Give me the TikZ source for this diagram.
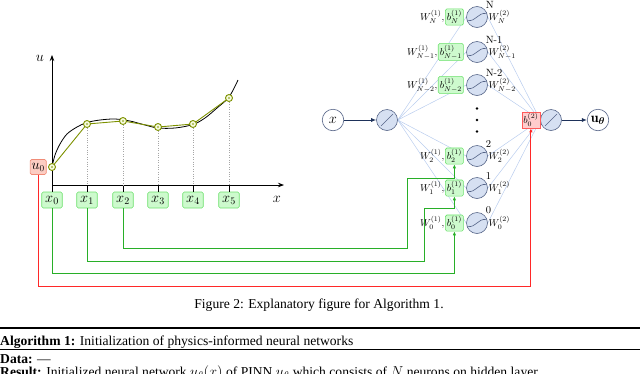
\documentclass[tikz,border=0pt]{standalone}
\usepackage{amsmath}
\usepackage{fontspec}
\newfontfamily\tnr{Liberation Serif}
\usetikzlibrary{arrows.meta,positioning,calc}
\pgfdeclarelayer{bg}
\pgfsetlayers{bg,main}
\definecolor{nfill}{RGB}{214,224,242}
\definecolor{nbord}{RGB}{85,100,135}
\definecolor{conn}{RGB}{185,205,238}
\definecolor{gfill}{RGB}{205,250,205}
\definecolor{gbord}{RGB}{110,225,110}
\definecolor{gline}{RGB}{40,175,40}
\definecolor{rfill}{RGB}{255,205,205}
\definecolor{rbord}{RGB}{255,90,90}
\definecolor{rline}{RGB}{255,40,40}
\definecolor{ufill}{RGB}{252,205,195}
\definecolor{ubord}{RGB}{240,140,120}
\definecolor{oliv}{RGB}{125,145,0}
\definecolor{pfill}{RGB}{245,250,220}
\definecolor{navy}{RGB}{30,50,90}
\tikzset{
  neuron/.style={circle, draw=nbord, fill=nfill, line width=0.6pt, minimum size=21pt, inner sep=0pt},
  iocirc/.style={circle, draw=nbord, fill=white, line width=0.6pt, minimum size=21.5pt, inner sep=0pt, font=\fontsize{14}{14}\selectfont},
  act/.style={nbord, line width=0.6pt},
  gbox/.style={draw=gbord, fill=gfill, rounded corners=1.5pt, line width=0.6pt, inner sep=1.5pt, font=\fontsize{10}{10}\selectfont},
  xbox/.style={gbox, inner xsep=3.5pt, minimum height=16pt, font=\fontsize{14}{14}\selectfont},
  rbox/.style={draw=rbord, fill=rfill, line width=0.6pt, inner sep=1.5pt, font=\fontsize{10}{10}\selectfont},
  ubox/.style={draw=ubord, fill=ufill, rounded corners=1.5pt, line width=0.6pt, inner xsep=1.5pt, minimum height=15pt, font=\fontsize{13.5}{13.5}\selectfont},
  wlbl/.style={inner sep=0.5pt, font=\fontsize{10}{10}\selectfont},
  toplbl/.style={inner sep=1pt, font=\fontsize{10.5}{10.5}\selectfont},
  cl/.style={conn, line width=0.5pt},
  gconn/.style={gline, line width=1pt, -{Latex[length=4pt,width=3.5pt]}},
  rconn/.style={rline, line width=1pt, -{Latex[length=4pt,width=3.5pt]}},
  navarrow/.style={navy, line width=0.9pt, -{Latex[length=5pt,width=4pt]}},
  axisline/.style={black, line width=0.8pt},
  ptstyle/.style={circle, draw=oliv, fill=pfill, line width=0.9pt, minimum size=7pt, inner sep=0pt},
  big/.style={font=\fontsize{14}{14}\selectfont},
  txt/.style={inner sep=0pt, font=\tnr\fontsize{13.6}{15}\selectfont}
}
\begin{document}
\begin{tikzpicture}[x=1pt,y=-1pt]
\useasboundingbox (0,0) rectangle (640,373);
\clip (0,0) rectangle (640,373);

% ---------- left plot ----------
\draw[axisline, -{Stealth[length=6pt,width=4.5pt]}] (52,185) -- (284,185);
\draw[axisline, -{Stealth[length=6pt,width=4.5pt]}] (52,185) -- (52,55);
\node[big] (ulab) at (40,58) {$u$};
\node[big] (xlab) at (277,199) {$x$};

\node[ptstyle] (p0) at (52,167) {};
\node[ptstyle] (p1) at (87,124) {};
\node[ptstyle] (p2) at (123,121) {};
\node[ptstyle] (p3) at (158,127) {};
\node[ptstyle] (p4) at (193,124) {};
\node[ptstyle] (p5) at (229,98) {};

\begin{pgfonlayer}{bg}
\draw[black, line width=0.8pt] plot[smooth, tension=0.55] coordinates {(52,167) (55,155) (60,144) (67,134) (77,127) (87,122.5) (100,120) (115,119) (130,121) (145,125) (158,128) (175,128) (193,124.5) (205,118) (217,108) (229,97) (238,80)};
\draw[oliv, line width=0.9pt] (p0.center) -- (p1.center) -- (p2.center) -- (p3.center) -- (p4.center) -- (p5.center);
\end{pgfonlayer}
\foreach \i in {0,...,5} { \fill[oliv] (p\i.center) circle (0.9pt); }

\node[xbox] (x0) at (52,200) {$x_0$};
\node[xbox] (x1) at (87,200) {$x_1$};
\node[xbox] (x2) at (123,200) {$x_2$};
\node[xbox] (x3) at (158,200) {$x_3$};
\node[xbox] (x4) at (193,200) {$x_4$};
\node[xbox] (x5) at (229,200) {$x_5$};
\foreach \i in {0,...,5} { \draw[axisline] (x\i.north |- 0,185) -- (x\i.north); }
\foreach \i in {1,...,5} { \draw[gray!70, line width=0.4pt, dotted] (p\i.south) -- (p\i.south |- 0,185); }

\node[ubox, left=1.5pt of p0] (u0) {$u_0$};

% ---------- network ----------
\node[iocirc] (xin) at (333,120) {$x$};
\node[neuron] (in) at (387,120) {};
\draw[act, shift={(in.center)}] (-6,6) -- (6,-6);
\node[neuron] (out) at (551,120) {};
\draw[act, shift={(out.center)}] (-6,6) -- (6,-6);
\node[iocirc] (uth) at (598,120) {$\mathbf{u}_{\boldsymbol{\theta}}$};
\node[rbox, left=0pt of out] (rb) {$b^{(2)}_0$};

\foreach \nm/\yy/\sub/\top in {hN/17/N/N, hA/52/{N-1}/N-1, hB/85/{N-2}/N-2, h2/156/2/2, h1/188/1/1, h0/223/0/0} {
  \node[neuron, label={[toplbl]45:\top}] (\nm) at (477,\yy) {};
  \draw[act, shift={(\nm.center)}] (-9.6,3.6) .. controls (0,4.5) and (0,-4.5) .. (9.6,-3.6);
  \node[gbox, left=2.5pt of \nm] (b\nm) {$b^{(1)}_{\sub}$};
  \node[wlbl, left=0pt of b\nm] (wl\nm) {$W^{(1)}_{\sub}$,};
  \node[wlbl, right=0pt of \nm] (wr\nm) {$W^{(2)}_{\sub}$};
  \begin{pgfonlayer}{bg}
    \draw[cl] (in.east) -- (\nm.west);
    \draw[cl] (\nm.east) -- (out.west);
  \end{pgfonlayer}
}
\fill (477,108.5) circle (1.3pt);
\fill (477,120) circle (1.3pt);
\fill (477,131.5) circle (1.3pt);

\draw[navarrow] (xin) -- (in);
\draw[navarrow] (out) -- (uth);

% ---------- connectors ----------
\draw[gconn] (x2.south) -- (x2.south |- 0,248) -- (407,248) -- (407,178) -| (bh2.south);
\draw[gconn] (x1.south) -- (x1.south |- 0,261) -- (424,261) -- (424,208) -| (bh1.south);
\draw[gconn] (x0.south) -- (x0.south |- 0,273) -| (bh0.south);
\draw[rconn] (u0.south) -- (u0.south |- 0,286) -| (rb.south);

% ---------- caption and algorithm ----------
\node[txt, anchor=base] (cap) at (319,308) {Figure 2: Explanatory figure for Algorithm 1.};
\draw[line width=1.2pt] (0,328) -- (640,328);
\node[txt, anchor=base west] (alg) at (0,345) {\textbf{Algorithm 1:} Initialization of physics-informed neural networks};
\draw[line width=0.8pt] (0,349.5) -- (640,349.5);
\node[txt, anchor=base west] (dat) at (0,363) {\textbf{Data:} —};
\node[txt, anchor=base west] (res) at (0,376.5) {\textbf{Result:} Initialized neural network $u_\theta(x)$ of PINN $u_\theta$ which consists of $N$ neurons on hidden layer};
\end{tikzpicture}
\end{document}
